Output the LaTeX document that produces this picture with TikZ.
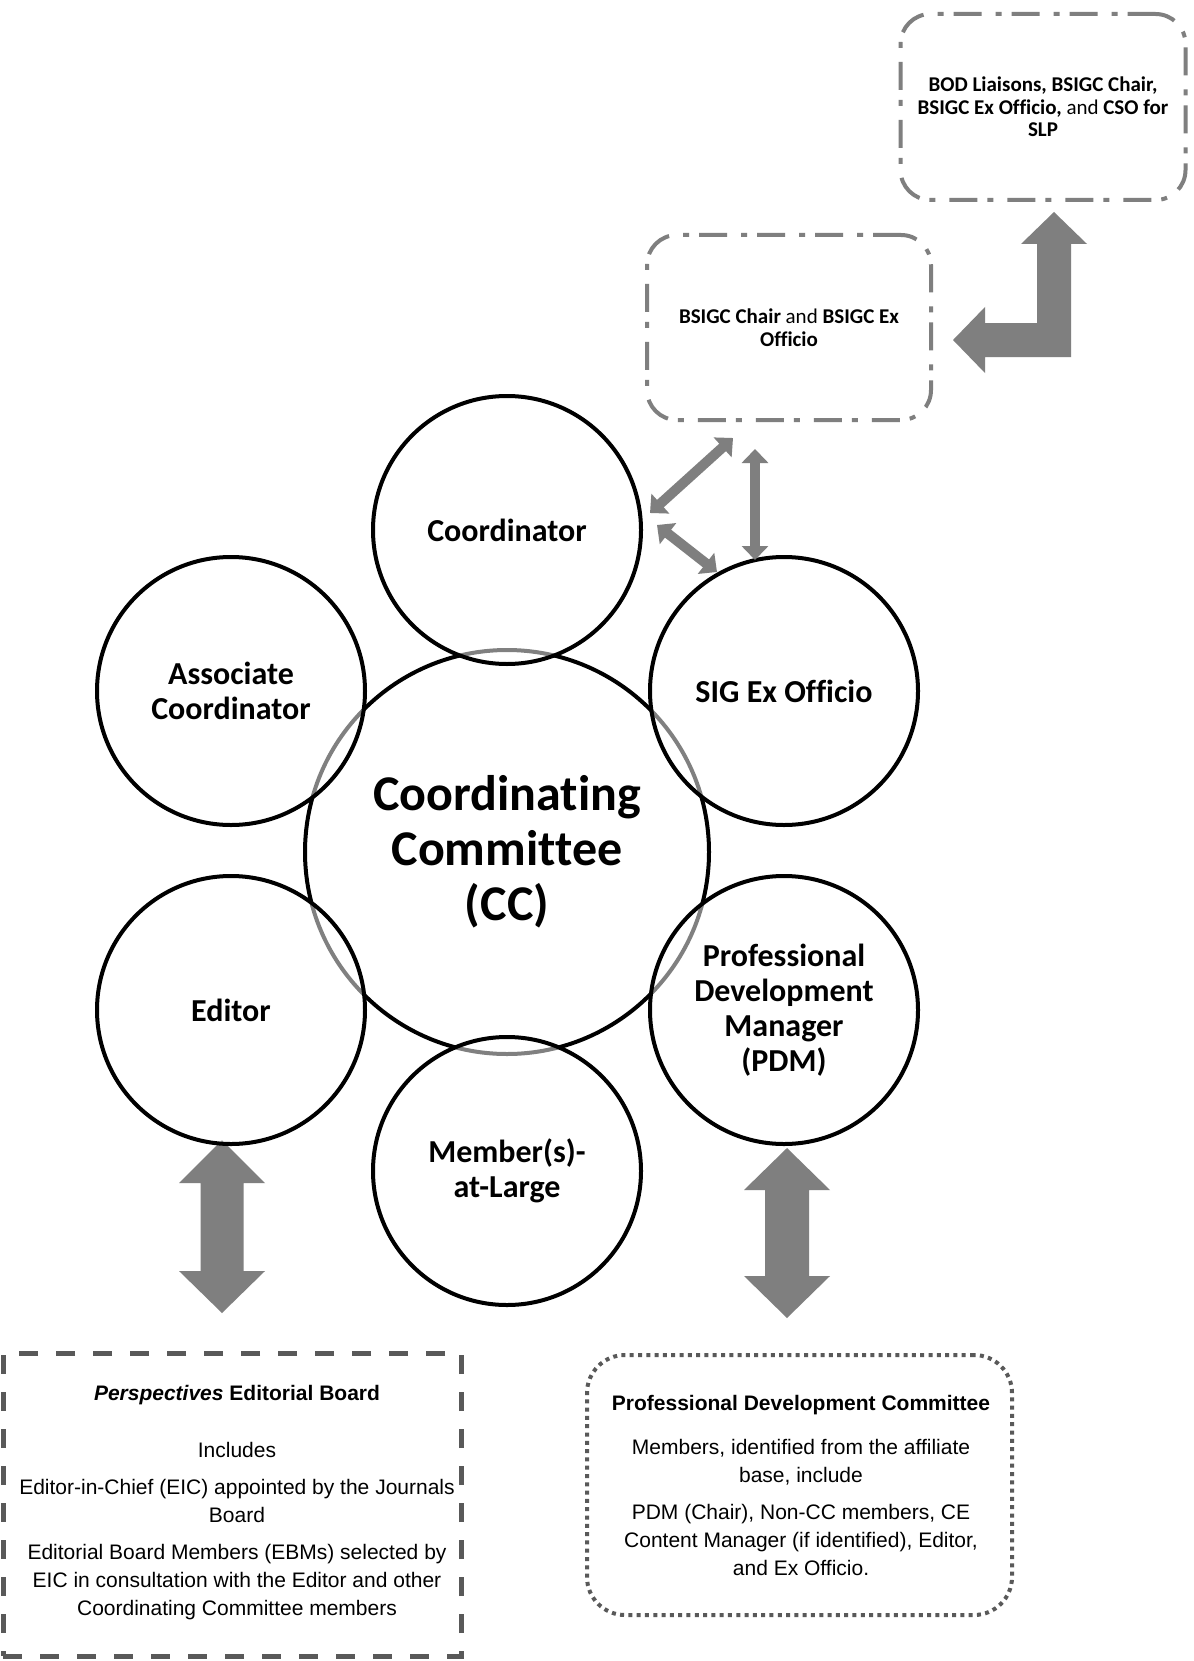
\documentclass[tikz,border=0pt]{standalone}
\usepackage{fontspec}
\setmainfont{Carlito}[Ligatures=NoCommon]
\newfontfamily\arialf{Liberation Sans}[Ligatures=NoCommon]
\usetikzlibrary{arrows.meta,calc}
\definecolor{agray}{RGB}{127,127,127}
\definecolor{dgray}{RGB}{89,89,89}
\begin{document}
\begin{tikzpicture}[x=1pt,y=-1pt,
  member/.style={circle, draw=black, line width=4pt, minimum size=268pt, inner sep=0pt,
    fill=white, fill opacity=0.5, text opacity=1, align=center,
    font=\fontsize{32}{35}\selectfont\bfseries},
  ccircle/.style={circle, draw=black, line width=4pt, minimum size=404pt, inner sep=0pt,
    align=center, font=\fontsize{50}{55}\selectfont\bfseries},
  upbox/.style={draw=agray, line width=4pt, rounded corners=30pt,
    dash pattern=on 28pt off 10pt on 6pt off 14pt, align=center,
    font=\fontsize{21}{22.5}\selectfont},
  bigarrow/.style={fill=agray},
  smallarr/.style={draw=agray, line width=10pt,
    {Triangle[width=26pt,length=14pt]}-{Triangle[width=26pt,length=14pt]}},
  bodytext/.style={anchor=north, align=center, inner sep=0pt,
    font=\arialf\fontsize{21}{28}\selectfont},
]
\useasboundingbox (0,0) rectangle (1193,1661);
\fill[white] (0,0) rectangle (1193,1661);

% upper boxes
\node[upbox, minimum width=285pt, minimum height=186pt] (top) at (1043,107)
  {\textbf{BOD Liaisons, BSIGC Chair,}\\ \textbf{BSIGC Ex Officio,} and \textbf{CSO for}\\ \textbf{SLP}};
\node[upbox, minimum width=284pt, minimum height=185pt] (mid) at (789,327.5)
  {\textbf{BSIGC Chair} and \textbf{BSIGC Ex}\\ \textbf{Officio}};

% L-shaped arrow between boxes
\fill[bigarrow] (1054,212) -- (1087,244) -- (1071,244) -- (1071,357) -- (985,357)
  -- (985,373) -- (953,340) -- (985,307) -- (985,323) -- (1037,323) -- (1037,244)
  -- (1021,244) -- cycle;

% big double arrows
\fill[bigarrow] (222,1140) -- (265,1183) -- (243.5,1183) -- (243.5,1271) -- (265,1271)
  -- (222,1313) -- (179,1271) -- (200.5,1271) -- (200.5,1183) -- (179,1183) -- cycle;
\fill[bigarrow] (787,1148) -- (830,1190) -- (809,1190) -- (809,1276) -- (830,1276)
  -- (787,1318) -- (744,1276) -- (765,1276) -- (765,1190) -- (744,1190) -- cycle;

% central circle
\node[ccircle] (cc) at (507,852) {Coordinating\\Committee\\(CC)};

% member circles
\node[member] (coord) at (507,530) {Coordinator};
\node[member] (sig) at (784,691) {SIG Ex Officio};
\node[member] (assoc) at (231,691) {Associate\\Coordinator};
\node[member] (editor) at (231,1010) {Editor};
\node[member] (pdm) at (784,1010) {Professional\\Development\\Manager\\(PDM)};
\node[member] (mal) at (507,1171) {Member(s)-\\at-Large};

% small arrows
\draw[smallarr] ($(mid.south)+(-56,16)$) -- ($(coord.center)+(143,-17)$);
\draw[smallarr] ($(coord.center)+(150,-5)$) -- ($(sig.center)+(-67,-119)$);
\draw[smallarr] ($(mid.south)+(-34,27)$) -- ($(sig.center)+(-29,-131)$);

% bottom boxes
\node[draw=dgray, line width=5pt, dash pattern=on 19pt off 18pt,
  minimum width=458pt, minimum height=303pt] (peb) at (232,1504.5) {};
\node[draw=dgray, line width=4pt, dash pattern=on 4pt off 4.3pt, rounded corners=38pt,
  minimum width=425pt, minimum height=260pt] (pdc) at (799.5,1485) {};

\node[bodytext] (pebtext) at (237,1385.5)
  {\textbf{\textit{Perspectives}} \textbf{Editorial Board}\\[29pt]
   Includes\\[9pt]
   Editor-in-Chief (EIC) appointed by the Journals\\ Board\\[9pt]
   Editorial Board Members (EBMs) selected by\\
   EIC in consultation with the Editor and other\\
   Coordinating Committee members};
\node[bodytext] (pdctext) at (801,1395.5)
  {\textbf{Professional Development Committee}\\[16pt]
   Members, identified from the affiliate\\ base, include\\[9pt]
   PDM (Chair), Non-CC members, CE\\
   Content Manager (if identified), Editor,\\
   and Ex Officio.};
\end{tikzpicture}
\end{document}
